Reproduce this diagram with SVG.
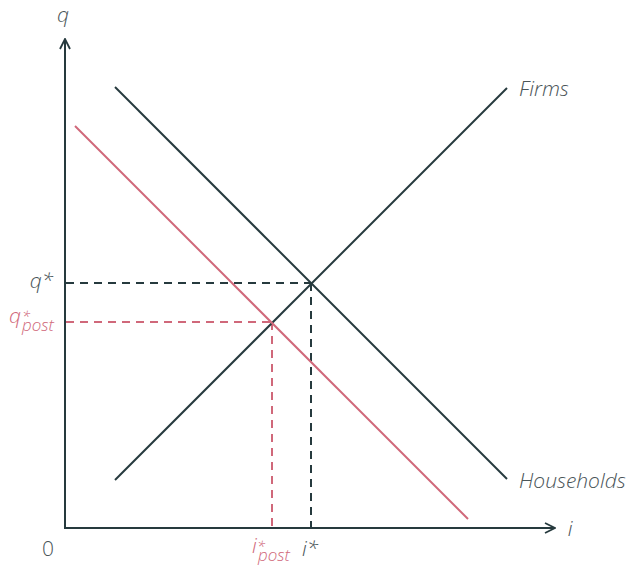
<svg xmlns="http://www.w3.org/2000/svg" width="639" height="571" viewBox="0 0 639 571">
<style>
.ax{stroke:#263a3e;stroke-width:2;fill:none}
.ln{stroke:#263a3e;stroke-width:2;fill:none}
.red{stroke:#d0687a;stroke-width:2;fill:none}
.dk{stroke:#263a3e;stroke-width:2;stroke-dasharray:8 6;fill:none}
.dr{stroke:#d0687a;stroke-width:2;stroke-dasharray:8 6;fill:none}
text{font-family:"Open Sans","Noto Sans",sans-serif;font-weight:300;font-style:italic;font-size:21px;fill:#4a5558}
.r{fill:#d0687a}
.up{font-style:normal}
.sup{font-size:15px}
.sub{font-size:17px}
</style>
<defs>
<marker id="arr" viewBox="0 0 12 12" refX="11" refY="6" markerWidth="12" markerHeight="12" markerUnits="userSpaceOnUse" orient="auto">
<path d="M1,1 L11,6 L1,11" fill="none" stroke="#263a3e" stroke-width="1.8"/>
</marker>
</defs>
<g id="axes">
<line class="ax" x1="65" y1="529" x2="65" y2="39" marker-end="url(#arr)"/>
<line class="ax" x1="64" y1="528" x2="555" y2="528" marker-end="url(#arr)"/>
<text x="63" y="22" text-anchor="middle">q</text>
<text x="570" y="536" text-anchor="middle">i</text>
<text class="up" x="48" y="556" text-anchor="middle">0</text>
</g>
<g id="connectors">
<line class="dk" x1="66" y1="283" x2="311" y2="283"/>
<line class="dk" x1="311" y1="283" x2="311" y2="527"/>
<line class="dr" x1="66" y1="322" x2="272" y2="322"/>
<line class="dr" x1="272" y1="322" x2="272" y2="527"/>
</g>
<g id="households">
<line class="ln" x1="115" y1="87" x2="507" y2="479"/>
<text x="519" y="488">Households</text>
</g>
<g id="firms">
<line class="ln" x1="115" y1="480" x2="507" y2="88"/>
<text x="519" y="96">Firms</text>
</g>
<g id="households-post">
<line class="red" x1="75" y1="126" x2="468" y2="519"/>
</g>
<g id="labels">
<text x="53" y="288" text-anchor="end">q*</text>
<text class="r" x="9" y="323">q</text>
<text class="r sup" x="22" y="322">*</text>
<text class="r sub" x="22" y="331">post</text>
<text class="r" x="252" y="553">i</text>
<text class="r sup" x="257" y="552">*</text>
<text class="r sub" x="258" y="561">post</text>
<text x="302" y="556">i*</text>
</g>
</svg>
